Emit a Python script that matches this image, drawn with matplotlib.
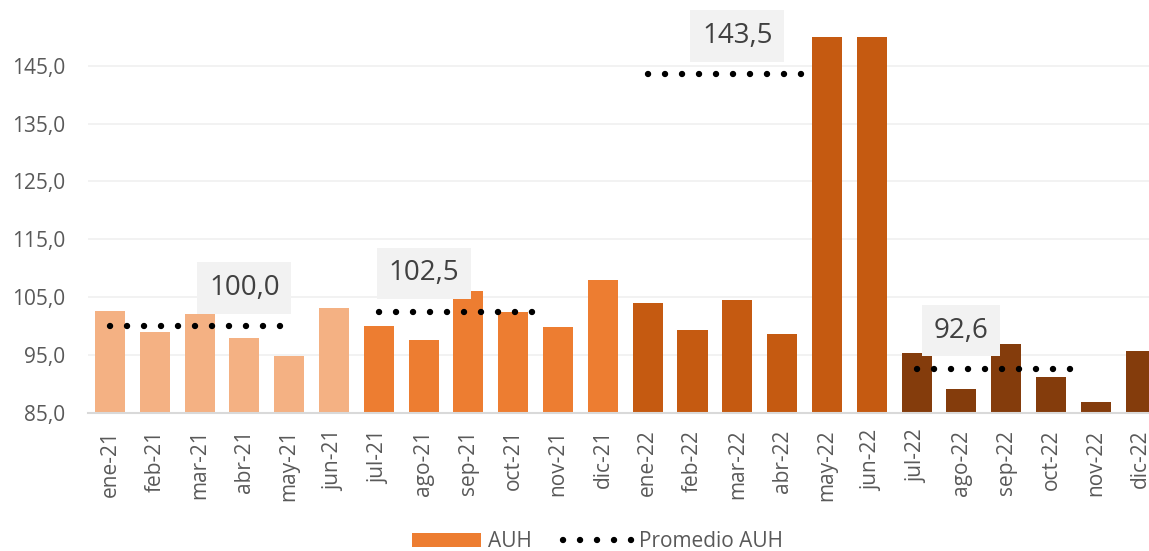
import numpy as np
import matplotlib
matplotlib.use('Agg')
from matplotlib import pyplot as plt
from matplotlib.patches import Patch
from matplotlib.lines import Line2D

plt.rcParams['font.family'] = ['Open Sans', 'DejaVu Sans']

# Datos
meses = ['ene-21', 'feb-21', 'mar-21', 'abr-21', 'may-21', 'jun-21',
         'jul-21', 'ago-21', 'sep-21', 'oct-21', 'nov-21', 'dic-21',
         'ene-22', 'feb-22', 'mar-22', 'abr-22', 'may-22', 'jun-22',
         'jul-22', 'ago-22', 'sep-22', 'oct-22', 'nov-22', 'dic-22']
auh = [102.6, 99.0, 102.1, 97.9, 94.9, 103.1,
       100.1, 97.6, 106.0, 102.4, 99.9, 107.9,
       104.0, 99.3, 104.5, 98.6, 165.0, 165.0,
       95.3, 89.1, 96.9, 91.2, 86.9, 95.7]
# promedios por semestre
prom_inicio = ['ene-21', 'jul-21', 'ene-22', 'jul-22']
prom_valor = [100.0, 102.5, 143.5, 92.6]
prom_etiqueta = ['abr-21', 'ago-21', 'mar-22', 'ago-22']

# estilo
colores_sem = ['#F4B183', '#ED7D31', '#C55A11', '#843C0C']
largo_linea = [4, 3.7, 3.6, 3.6]
gris = '#595959'

fig = plt.figure(figsize=(11.49, 5.51), dpi=100)
ax = fig.add_axes([0.0762, 0.2505, 0.936, 0.6829])

x = np.arange(len(meses))
cols = [colores_sem[i // 6] for i in range(len(meses))]
ax.bar(x, auh, width=0.67, color=cols, zorder=2)

estilo_puntos = (0, (0.01, 2.65))
for ini, val, et, lg in zip(prom_inicio, prom_valor, prom_etiqueta, largo_linea):
    i0 = meses.index(ini)
    ax.plot([i0, i0 + lg], [val, val], color='black', lw=4.6,
            linestyle=estilo_puntos, dash_capstyle='round', zorder=3)
    ax.annotate(f'{val:.1f}'.replace('.', ','), (meses.index(et), val),
                xytext=(0, 27.5), textcoords='offset points',
                ha='center', va='center', fontsize=20, color='#404040',
                bbox=dict(boxstyle='square,pad=0.42', fc='#F2F2F2', ec='none'),
                zorder=4)

ax.set_xlim(-0.5, len(meses) - 0.5)
ax.set_ylim(85, 150)
ax.set_yticks(np.arange(85, 150, 10))
ax.set_yticklabels([f'{v:.1f}'.replace('.', ',') for v in np.arange(85, 150, 10)])
ax.set_xticks(x)
ax.set_xticklabels(meses, rotation=90, va='top')
ax.tick_params(axis='both', length=0, labelsize=15, colors=gris)
ax.tick_params(axis='y', pad=16)
ax.tick_params(axis='x', pad=12)
ax.grid(axis='y', color='#F0F0F0', lw=1.2, zorder=0)
ax.set_axisbelow(True)
for s in ['top', 'right', 'left']:
    ax.spines[s].set_visible(False)
ax.spines['bottom'].set_color('#D9D9D9')
ax.spines['bottom'].set_linewidth(1.5)
ax.spines['bottom'].set_zorder(5)

handles = [Patch(facecolor='#ED7D31', edgecolor='none'),
           Line2D([0], [0], color='black', lw=4.6, linestyle=estilo_puntos,
                  dash_capstyle='round')]
fig.legend(handles, ['AUH', 'Promedio AUH'], loc='center', ncol=2,
           bbox_to_anchor=(0.52, 0.017), frameon=False, fontsize=15,
           labelcolor=gris, handlelength=3.3, handleheight=0.7,
           handletextpad=0.35, columnspacing=1.5)

fig.savefig('out.png', dpi=100)
